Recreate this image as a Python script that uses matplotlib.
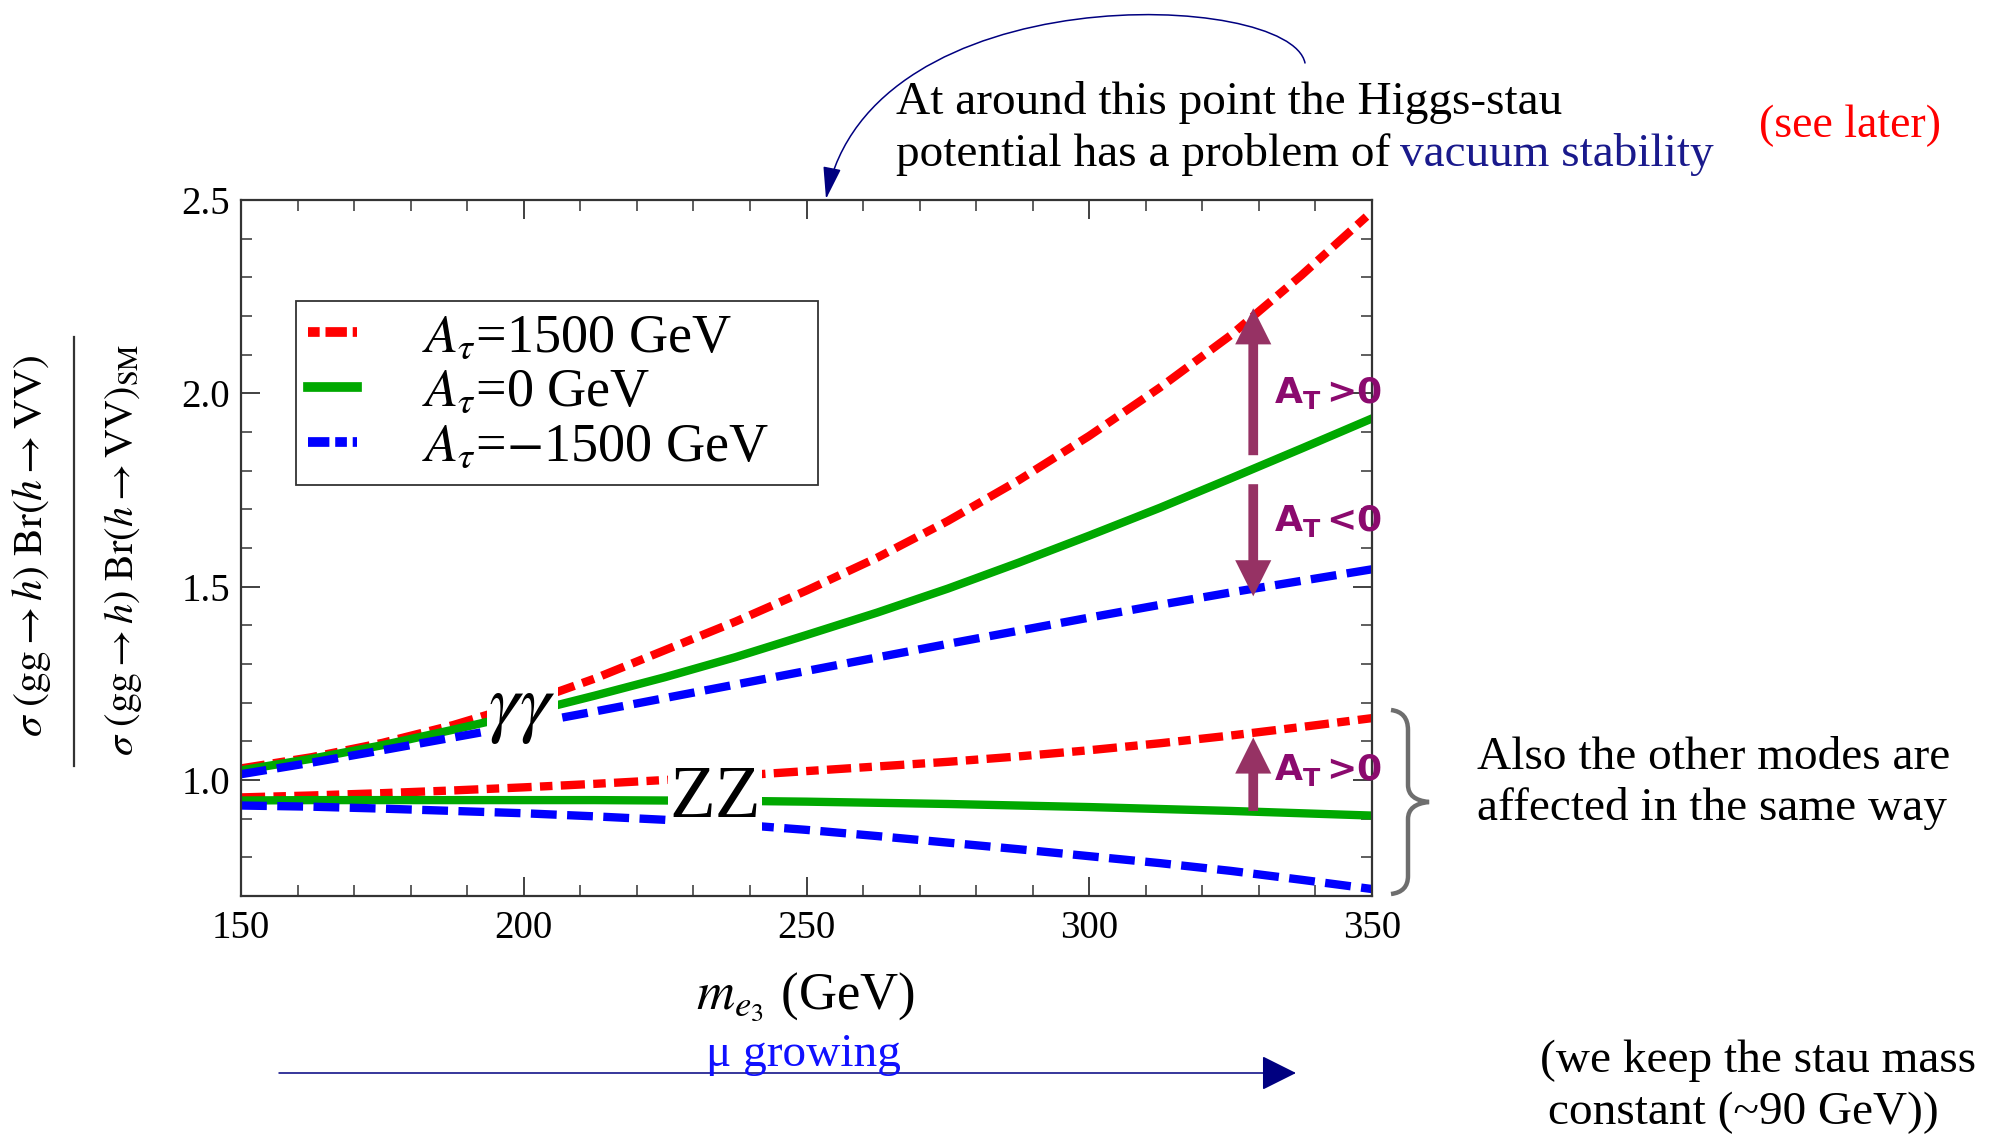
import matplotlib.pyplot as plt
from matplotlib.ticker import MultipleLocator
from matplotlib.patches import FancyArrowPatch, PathPatch
from matplotlib.lines import Line2D
from matplotlib.path import Path

plt.rcParams['font.family'] = ['Liberation Serif', 'DejaVu Serif']
plt.rcParams['mathtext.fontset'] = 'stix'

# === DATA ===
m_e3 = [150, 162.5, 175, 187.5, 200, 212.5, 225, 237.5, 250,
        262.5, 275, 287.5, 300, 312.5, 325, 337.5, 350]

# gamma gamma channel
gg_plus = [1.03, 1.059, 1.096, 1.142, 1.197, 1.262, 1.336, 1.41, 1.49,
           1.575, 1.67, 1.775, 1.89, 2.015, 2.15, 2.305, 2.47]          # A_tau = 1500
gg_zero = [1.025, 1.055, 1.09, 1.13, 1.172, 1.218, 1.266, 1.318, 1.375,
           1.433, 1.495, 1.562, 1.632, 1.704, 1.78, 1.857, 1.935]       # A_tau = 0
gg_minus = [1.015, 1.045, 1.077, 1.11, 1.143, 1.177, 1.212, 1.247, 1.282,
            1.317, 1.352, 1.386, 1.42, 1.453, 1.485, 1.515, 1.545]      # A_tau = -1500

# ZZ channel
zz_plus = [0.955, 0.96, 0.966, 0.973, 0.981, 0.99, 1.0, 1.011, 1.023,
           1.035, 1.047, 1.061, 1.077, 1.095, 1.115, 1.137, 1.16]
zz_zero = [0.947, 0.948, 0.948, 0.948, 0.948, 0.948, 0.947, 0.946, 0.944,
           0.941, 0.938, 0.934, 0.93, 0.925, 0.92, 0.914, 0.908]
zz_minus = [0.934, 0.931, 0.926, 0.92, 0.914, 0.906, 0.897, 0.885, 0.871,
            0.855, 0.838, 0.821, 0.803, 0.785, 0.765, 0.742, 0.718]

legend_labels = [r'$A_\tau$=1500 GeV', r'$A_\tau$=0 GeV', r'$A_\tau$=$-$1500 GeV']

# purple arrows: (x, start, end)
sign_arrows = [(329, 1.84, 2.22), (329, 1.765, 1.475), (329, 0.92, 1.11)]
sign_labels = [(332.7, 2.00, '>0'), (332.7, 1.67, '<0'), (332.7, 1.026, '>0')]

W, H = 1992, 1136


def fx(px):
    return px / W


def fy(py):
    return 1 - py / H


fig = plt.figure(figsize=(W / 100, H / 100), dpi=100)
ax = fig.add_axes([fx(241), fy(896), fx(1372) - fx(241), fy(200) - fy(896)])

RED, GREEN, BLUE = '#ff0000', '#00a800', '#0000ff'
lw = 6
red_ls = (0, (2.9, 1.0, 1.5, 1.0))
blue_ls = (0, (3.1, 1.25))

ax.plot(m_e3, gg_plus, color=RED, lw=lw, ls=red_ls)
ax.plot(m_e3, gg_zero, color=GREEN, lw=lw)
ax.plot(m_e3, gg_minus, color=BLUE, lw=lw, ls=blue_ls)
ax.plot(m_e3, zz_plus, color=RED, lw=lw, ls=red_ls)
ax.plot(m_e3, zz_zero, color=GREEN, lw=lw)
ax.plot(m_e3, zz_minus, color=BLUE, lw=lw, ls=blue_ls)

# channel labels sit on a white patch that breaks the curves
ax.text(199.7, 1.18, r'$\gamma\gamma$', fontsize=56, ha='center', va='center',
        bbox=dict(facecolor='white', edgecolor='none', pad=1), zorder=5)
ax.text(233.8, 0.949, 'ZZ', fontsize=54, ha='center', va='center',
        bbox=dict(facecolor='white', edgecolor='none', pad=1), zorder=5)

ax.set_xlim(150, 350)
ax.set_ylim(0.7, 2.5)
ax.set_xticks([150, 200, 250, 300, 350])
ax.set_yticks([1.0, 1.5, 2.0, 2.5])
ax.xaxis.set_minor_locator(MultipleLocator(10))
ax.yaxis.set_minor_locator(MultipleLocator(0.1))
ax.tick_params(which='both', direction='in', top=True, right=True,
               color='#333333', labelcolor='black')
ax.tick_params(which='major', length=14, width=1.3, labelsize=28)
ax.tick_params(axis='x', which='major', pad=10)
ax.tick_params(axis='y', which='major', pad=8)
ax.tick_params(which='minor', length=8, width=1.1)
for sp in ax.spines.values():
    sp.set_color('#333333')
    sp.set_linewidth(1.6)

# legend
handles = [Line2D([], [], color=RED, lw=7, ls=(0, (1.2, 0.6, 2.2, 0.6))),
           Line2D([], [], color=GREEN, lw=7),
           Line2D([], [], color=BLUE, lw=7, ls=(0, (2.2, 0.6, 1.2, 0.6)))]
leg = ax.legend(handles, legend_labels, loc='upper left', mode='expand',
                bbox_to_anchor=(0.0486, 0.586, 0.4614, 0.269),
                fontsize=39, handlelength=0.9, handletextpad=1.2,
                labelspacing=0.08, borderpad=0.22, borderaxespad=0,
                frameon=True, fancybox=False, framealpha=1)
leg.get_frame().set_edgecolor('#333333')
leg.get_frame().set_linewidth(1.3)

# purple A_tau sign arrows
ARROW_PURPLE = '#963264'
TEXT_PURPLE = '#8b0a6e'
for x, y0, y1 in sign_arrows:
    ax.annotate('', xy=(x, y1), xytext=(x, y0),
                arrowprops=dict(arrowstyle='simple,head_width=1.3,head_length=1.3,tail_width=0.35',
                                color=ARROW_PURPLE, lw=0, shrinkA=0, shrinkB=0,
                                mutation_scale=20), zorder=6)
for x, y, s in sign_labels:
    ax.text(x, y, r'$\mathbf{A}_{\mathbf{T}}\,$' + s, fontsize=26, color=TEXT_PURPLE,
            fontfamily='DejaVu Sans', fontweight='bold', math_fontfamily='dejavusans',
            ha='left', va='center', zorder=6)

# axis labels
fig.text(fx(806), fy(997), r'$m_{e_3}$ (GeV)', fontsize=38, ha='center', va='center')
fig.text(fx(32), fy(546), r'$\sigma\ (\mathrm{gg} \rightarrow h)\ \mathrm{Br}(h \rightarrow \mathrm{VV})$',
         fontsize=30, rotation=90, ha='center', va='center')
fig.text(fx(123), fy(550), r'$\sigma\ (\mathrm{gg} \rightarrow h)\ \mathrm{Br}(h \rightarrow \mathrm{VV})_{\mathrm{SM}}$',
         fontsize=29, rotation=90, ha='center', va='center')
fig.add_artist(Line2D([fx(74), fx(74)], [fy(337), fy(766)], color='#333333', lw=1.6))

# annotations around the plot
NAVY = '#000080'
fig.text(fx(896), fy(102), 'At around this point the Higgs-stau', fontsize=34, va='center')
fig.text(fx(896), fy(154), 'potential has a problem of ', fontsize=34, va='center')
fig.text(fx(1400), fy(154), 'vacuum stability', fontsize=34, va='center', color='#1a1a8c')
fig.text(fx(1759), fy(126), '(see later)', fontsize=33, va='center', color='#ff0000')

arc_pts = [(1305, 63), (1290, -10), (870, -25), (826, 199)]
arc_path = Path([(fx(a), fy(b)) for a, b in arc_pts],
                [Path.MOVETO, Path.CURVE4, Path.CURVE4, Path.CURVE4])
arc = FancyArrowPatch(path=arc_path, transform=fig.transFigure,
                      arrowstyle='-|>,head_length=1.0,head_width=0.28',
                      mutation_scale=20, color=NAVY, lw=1.1)
fig.add_artist(arc)

fig.text(fx(1477), fy(758), 'Also the other modes are', fontsize=34, va='center')
fig.text(fx(1477), fy(809), 'affected in the same way', fontsize=34, va='center')

# curly brace next to the ZZ curves
bx, tip = 1408, 1429
brace = [(1391, 710), (1408, 712), (bx, 730), (bx, 785), (bx, 800), (tip, 802),
         (bx, 804), (bx, 819), (bx, 876), (bx, 892), (1391, 894)]
codes = [Path.MOVETO, Path.CURVE3, Path.CURVE3, Path.LINETO, Path.CURVE3, Path.CURVE3,
         Path.CURVE3, Path.CURVE3, Path.LINETO, Path.CURVE3, Path.CURVE3]
verts = [(fx(a), fy(b)) for a, b in brace]
fig.add_artist(PathPatch(Path(verts, codes), transform=fig.transFigure,
                         fill=False, edgecolor='#6e6e6e', lw=3.2))

# mu growing arrow
mu = FancyArrowPatch((fx(279), fy(1073)), (fx(1296), fy(1073)), transform=fig.transFigure,
                     arrowstyle='-|>,head_length=1.1,head_width=0.55',
                     mutation_scale=20, color=NAVY, lw=1.1, shrinkA=0, shrinkB=0)
fig.add_artist(mu)
fig.text(fx(803), fy(1066), 'μ growing', fontsize=34, ha='center', va='baseline', color='#1010ff')

fig.text(fx(1540), fy(1061), '(we keep the stau mass', fontsize=34, va='center')
fig.text(fx(1548), fy(1113), 'constant (~90 GeV))', fontsize=34, va='center')

plt.savefig('out.png', dpi=100)
plt.close(fig)
